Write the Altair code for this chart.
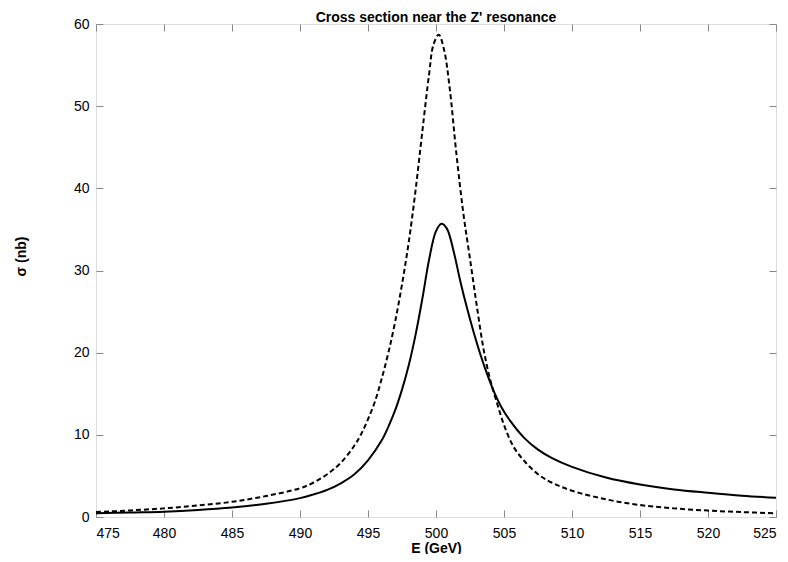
import altair as alt
import pandas as pd

# ---- data ----
E_DASHED = [475, 477.5, 480, 482.5, 485, 487.5, 490, 491, 492, 493, 494, 494.5,
            495, 495.5, 496, 496.5, 497, 497.5, 498, 498.5, 499, 499.5, 499.8,
            500.2, 500.6, 501, 501.5, 502, 502.5, 503, 503.5, 504, 504.5, 505,
            505.7, 506.5, 507.5, 508.5, 510, 512.5, 515, 517.5, 520, 522.5, 525]
SIGMA_DASHED = [0.6, 0.8, 1.05, 1.4, 1.85, 2.55, 3.5, 4.2, 5.2, 6.6, 8.7, 10.1,
                11.9, 14.0, 16.8, 20.0, 23.8, 28.3, 33.5, 39.8, 47.0, 54.0, 57.4,
                58.7, 56.8, 52.3, 44.2, 37.1, 31.4, 25.7, 20.4, 16.6, 13.8, 11.2,
                8.55, 6.8, 5.2, 4.2, 3.2, 2.15, 1.45, 1.05, 0.78, 0.6, 0.45]

E_SOLID = [475, 477.5, 480, 482.5, 485, 487.5, 490, 491, 492, 493, 494, 495,
           496, 496.5, 497, 497.5, 498, 498.5, 499, 499.5, 500, 500.4, 500.8,
           501.3, 501.8, 502.3, 502.8, 503.3, 503.8, 504.3, 504.8, 505.5, 506.5,
           507.5, 508.5, 510, 512.5, 515, 517.5, 520, 522.5, 525]
SIGMA_SOLID = [0.45, 0.55, 0.65, 0.85, 1.15, 1.6, 2.3, 2.75, 3.3, 4.1, 5.2, 6.9,
               9.3, 11.0, 13.0, 15.5, 18.5, 22.2, 26.6, 31.4, 34.8, 35.7, 35.1,
               32.3, 28.6, 25.3, 22.3, 19.6, 17.2, 15.1, 13.4, 11.6, 9.6,
               8.2, 7.2, 6.1, 4.8, 3.95, 3.35, 2.95, 2.6, 2.35]

X_TICKS = [475, 480, 485, 490, 495, 500, 505, 510, 515, 520, 525]
Y_TICKS = [0, 10, 20, 30, 40, 50, 60]

TITLE = "Cross section near the Z' resonance"
X_TITLE = "E (GeV)"
Y_TITLE = "σ (nb)"

dashed_df = pd.DataFrame({"E": E_DASHED, "sigma": SIGMA_DASHED})
solid_df = pd.DataFrame({"E": E_SOLID, "sigma": SIGMA_SOLID})

FONT = "Liberation Sans"
TICK = 7

x_scale = alt.Scale(domain=[475, 525], nice=False, zero=False)
y_scale = alt.Scale(domain=[0, 60], nice=False, zero=False)

x_bottom = alt.Axis(orient="bottom", values=X_TICKS, offset=-TICK, tickSize=TICK,
                    domain=False, grid=False, labelPadding=9, title=X_TITLE,
                    titlePadding=1, labelFontSize=14, titleFontSize=14)
y_left = alt.Axis(orient="left", values=Y_TICKS, offset=-TICK, tickSize=TICK,
                  domain=False, grid=False, labelPadding=7, title=Y_TITLE,
                  titleX=-75, titleY=232, labelFontSize=14, titleFontSize=14)
x_top = alt.Axis(orient="top", values=X_TICKS, offset=-TICK, tickSize=TICK,
                 domain=False, grid=False, labels=False)
y_right = alt.Axis(orient="right", values=Y_TICKS, offset=-TICK, tickSize=TICK,
                   domain=False, grid=False, labels=False)

solid = alt.Chart(solid_df).mark_line(
    color="black", strokeWidth=2, interpolate="catmull-rom", clip=True
).encode(
    x=alt.X("E:Q", scale=x_scale, axis=x_bottom),
    y=alt.Y("sigma:Q", scale=y_scale, axis=y_left),
)

dashed = alt.Chart(dashed_df).mark_line(
    color="black", strokeWidth=2, strokeDash=[5, 3], interpolate="catmull-rom", clip=True
).encode(
    x=alt.X("E:Q", scale=x_scale, axis=x_top, title=None),
    y=alt.Y("sigma:Q", scale=y_scale, axis=y_right, title=None),
)

chart = alt.layer(solid, dashed).resolve_axis(
    x="independent", y="independent"
).properties(
    width=680,
    height=493,
    autosize=alt.AutoSizeParams(type="none"),
    padding={"left": 88, "top": 16, "right": 4, "bottom": 37},
    title=alt.Title(TITLE, fontSize=14, font=FONT, fontWeight="bold",
                    color="black", offset=-8, anchor="middle"),
).configure_view(
    stroke="black", strokeWidth=1.5
).configure_axis(
    labelFont=FONT, titleFont=FONT, labelColor="black", titleColor="black",
    labelFontWeight="bold", titleFontWeight="bold",
    tickColor="black", tickWidth=1.5,
).configure(background="white")

chart.save("out.html", embed_options={"renderer": "svg", "actions": False})
